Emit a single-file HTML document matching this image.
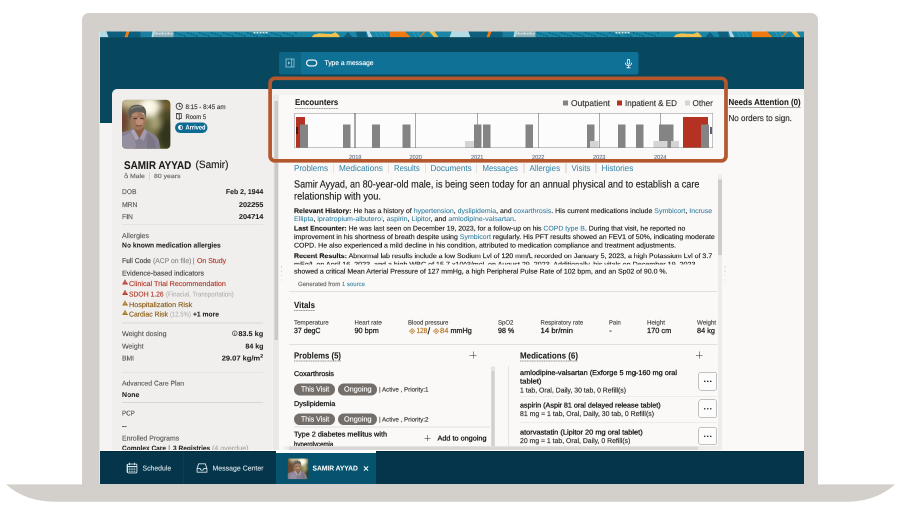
<!DOCTYPE html>
<html lang="en">
<head>
<meta charset="utf-8">
<title>Patient chart - Samir Ayyad</title>
<style>
html,body{margin:0;padding:0;background:#fff;}
body{width:900px;height:531px;overflow:hidden;position:relative;font-family:"Liberation Sans",sans-serif;}
#stage{will-change:transform;position:absolute;left:0;top:0;width:1800px;height:1062px;transform:scale(.5);transform-origin:0 0;}
#bezel{position:absolute;left:164px;top:26px;width:1472px;height:946px;background:#d3d0cb;border-radius:14px 14px 0 0;}
#base{position:absolute;left:0;top:0;width:1800px;height:1062px;}
#screen{position:absolute;left:200px;top:63px;width:1408px;height:905px;overflow:hidden;background:#f6f4f2;}
#in{position:absolute;left:-200px;top:-63px;width:1800px;height:1062px;}
.b{position:absolute;}
.t{position:absolute;white-space:nowrap;display:block;text-rendering:geometricPrecision;-webkit-text-stroke:0.3px currentColor;}
.lk{color:#2b7a9c;-webkit-text-stroke:0.1px #2b7a9c;}
svg{position:absolute;overflow:visible;}
</style>
</head>
<body>
<div id="stage">
<svg id="base" viewBox="0 0 900 531"><path d="M6,484.4 Q25.3,501.8 56,501.8 L845,501.8 Q875.7,501.8 895,484.4 Z" fill="#d3d0cb"/></svg>
<div id="bezel"></div>
<div class="b" style="left:198.4px;top:63px;width:2px;height:905px;background:#e6e2de;"></div>
<div id="screen"><div id="in">
<div class="b" style="left:200px;top:62px;width:1408px;height:184px;background:#07485f;"></div>
<svg style="left:200px;top:62.8px;width:1408px;height:11.2px" viewBox="0 0 704 5.6" preserveAspectRatio="none"><g transform="translate(-12.5,0)"><polygon points="0,0 362,0 362,5.6 0,5.6" fill="#1a86a6"/><polygon points="-2,0 2.2,0 0,5.6 -2,5.6" fill="#1a86a6"/><polygon points="2.2,0 19,0 21,5.6 0,5.6" fill="#b4dae6"/><polygon points="19,0 53,0 53,5.6 21,5.6" fill="#0e5f7e"/><polygon points="39,0 42,0 40,5.6 37,5.6" fill="#f07a10"/><polygon points="53,0 65,0 64,5.6 53,5.6" fill="#1a7ea0"/><polygon points="65,0 68,0 66,5.6 64,5.6" fill="#b4dae6"/><polygon points="68,0 86,0 86,5.6 66,5.6" fill="#8fb0b8"/><polygon points="87,0.6 89,0.6 89.6,2.2 87.6,2.2" fill="#0e6685"/><polygon points="90,1.6 92,1.6 92.6,3.2 90.6,3.2" fill="#0e6685"/><polygon points="93,2.6 95,2.6 95.6,4.2 93.6,4.2" fill="#0e6685"/><polygon points="96,3.6 98,3.6 98.6,5.2 96.6,5.2" fill="#0e6685"/><polygon points="99,0.6 101,0.6 101.6,2.2 99.6,2.2" fill="#0e6685"/><polygon points="102,1.6 104,1.6 104.6,3.2 102.6,3.2" fill="#0e6685"/><polygon points="105,2.6 107,2.6 107.6,4.2 105.6,4.2" fill="#0e6685"/><polygon points="108,3.6 110,3.6 110.6,5.2 108.6,5.2" fill="#0e6685"/><polygon points="111,0.6 113,0.6 113.6,2.2 111.6,2.2" fill="#0e6685"/><polygon points="114,1.6 116,1.6 116.6,3.2 114.6,3.2" fill="#0e6685"/><polygon points="117,2.6 119,2.6 119.6,4.2 117.6,4.2" fill="#0e6685"/><polygon points="120,3.6 122,3.6 122.6,5.2 120.6,5.2" fill="#0e6685"/><polygon points="123,0.6 125,0.6 125.6,2.2 123.6,2.2" fill="#0e6685"/><polygon points="126,1.6 128,1.6 128.6,3.2 126.6,3.2" fill="#0e6685"/><polygon points="129,2.6 131,2.6 131.6,4.2 129.6,4.2" fill="#0e6685"/><polygon points="132,3.6 134,3.6 134.6,5.2 132.6,5.2" fill="#0e6685"/><polygon points="135,0.6 137,0.6 137.6,2.2 135.6,2.2" fill="#0e6685"/><polygon points="138,1.6 140,1.6 140.6,3.2 138.6,3.2" fill="#0e6685"/><polygon points="141,2.6 143,2.6 143.6,4.2 141.6,4.2" fill="#0e6685"/><polygon points="144,3.6 146,3.6 146.6,5.2 144.6,5.2" fill="#0e6685"/><polygon points="147,0.6 149,0.6 149.6,2.2 147.6,2.2" fill="#0e6685"/><polygon points="150,1.6 152,1.6 152.6,3.2 150.6,3.2" fill="#0e6685"/><polygon points="153,2.6 155,2.6 155.6,4.2 153.6,4.2" fill="#0e6685"/><polygon points="156,3.6 158,3.6 158.6,5.2 156.6,5.2" fill="#0e6685"/><polygon points="159,0.6 161,0.6 161.6,2.2 159.6,2.2" fill="#0e6685"/><polygon points="162,1.6 164,1.6 164.6,3.2 162.6,3.2" fill="#0e6685"/><polygon points="165,2.6 167,2.6 167.6,4.2 165.6,4.2" fill="#0e6685"/><polygon points="168,3.6 170,3.6 170.6,5.2 168.6,5.2" fill="#0e6685"/><polygon points="171,0.6 173,0.6 173.6,2.2 171.6,2.2" fill="#0e6685"/><polygon points="174,1.6 176,1.6 176.6,3.2 174.6,3.2" fill="#0e6685"/><polygon points="177,2.6 179,2.6 179.6,4.2 177.6,4.2" fill="#0e6685"/><polygon points="180,3.6 182,3.6 182.6,5.2 180.6,5.2" fill="#0e6685"/><polygon points="183,0.6 185,0.6 185.6,2.2 183.6,2.2" fill="#0e6685"/><polygon points="186,1.6 188,1.6 188.6,3.2 186.6,3.2" fill="#0e6685"/><polygon points="189,2.6 191,2.6 191.6,4.2 189.6,4.2" fill="#0e6685"/><polygon points="192,3.6 194,3.6 194.6,5.2 192.6,5.2" fill="#0e6685"/><polygon points="195,0.6 197,0.6 197.6,2.2 195.6,2.2" fill="#0e6685"/><polygon points="198,1.6 200,1.6 200.6,3.2 198.6,3.2" fill="#0e6685"/><polygon points="201,2.6 203,2.6 203.6,4.2 201.6,4.2" fill="#0e6685"/><polygon points="204,3.6 206,3.6 206.6,5.2 204.6,5.2" fill="#0e6685"/><polygon points="207,0.6 209,0.6 209.6,2.2 207.6,2.2" fill="#0e6685"/><polygon points="68,1 70,1 70,3 68,3" fill="#d8e4e6"/><polygon points="71,2 73,1 73,3 71,3" fill="#d8e4e6"/><polygon points="74,1 76,1 76,3 74,3" fill="#d8e4e6"/><polygon points="77,2 79,1 79,3 77,3" fill="#d8e4e6"/><polygon points="80,1 82,1 82,3 80,3" fill="#d8e4e6"/><polygon points="83,2 85,1 85,3 83,3" fill="#d8e4e6"/><polygon points="166,0.5 168,0.5 168,2 166,2" fill="#cfe3e8"/><polygon points="169,0.5 171,0.5 171,2 169,2" fill="#cfe3e8"/><polygon points="172,0.5 174,0.5 174,2 172,2" fill="#cfe3e8"/><polygon points="175,0.5 177,0.5 177,2 175,2" fill="#cfe3e8"/><polygon points="178,0.5 180,0.5 180,2 178,2" fill="#cfe3e8"/><polygon points="224,5.6 226.5,3 232,1.8 238,2.2 244,2.4 248,0.6 251,3.2 252.5,5.6" fill="#f2c04e"/><polygon points="256,5.6 260.5,0.5 265,5.6" fill="#0e5f7e"/><polygon points="268,0 279,0 279,5.6 270,5.6" fill="#0e5f7e"/><polygon points="279,0 282,0 285,5.6 281,5.6" fill="#b4dae6"/><polygon points="302,0 317.5,0 323,5.6 302.6,5.6" fill="#f07a10"/><polygon points="287,0 288.4,0 291.4,5.6 290,5.6" fill="#2a9aba"/><polygon points="291,0 292.4,0 295.4,5.6 294,5.6" fill="#2a9aba"/><polygon points="295,0 296.4,0 299.4,5.6 298,5.6" fill="#2a9aba"/><polygon points="325,0 326.4,0 329.4,5.6 328,5.6" fill="#2a9aba"/><polygon points="329,0 330.4,0 333.4,5.6 332,5.6" fill="#2a9aba"/><polygon points="336.6,0 338,0 333.4,5.6 332,5.6" fill="#f07a10"/><polygon points="341.5,0 347,0 351,5.6 346.5,5.6" fill="#f2c04e"/></g><g transform="translate(349.5,0)"><polygon points="0,0 362,0 362,5.6 0,5.6" fill="#1a86a6"/><polygon points="-2,0 2.2,0 0,5.6 -2,5.6" fill="#1a86a6"/><polygon points="2.2,0 19,0 21,5.6 0,5.6" fill="#b4dae6"/><polygon points="19,0 53,0 53,5.6 21,5.6" fill="#0e5f7e"/><polygon points="39,0 42,0 40,5.6 37,5.6" fill="#f07a10"/><polygon points="53,0 65,0 64,5.6 53,5.6" fill="#1a7ea0"/><polygon points="65,0 68,0 66,5.6 64,5.6" fill="#b4dae6"/><polygon points="68,0 86,0 86,5.6 66,5.6" fill="#8fb0b8"/><polygon points="87,0.6 89,0.6 89.6,2.2 87.6,2.2" fill="#0e6685"/><polygon points="90,1.6 92,1.6 92.6,3.2 90.6,3.2" fill="#0e6685"/><polygon points="93,2.6 95,2.6 95.6,4.2 93.6,4.2" fill="#0e6685"/><polygon points="96,3.6 98,3.6 98.6,5.2 96.6,5.2" fill="#0e6685"/><polygon points="99,0.6 101,0.6 101.6,2.2 99.6,2.2" fill="#0e6685"/><polygon points="102,1.6 104,1.6 104.6,3.2 102.6,3.2" fill="#0e6685"/><polygon points="105,2.6 107,2.6 107.6,4.2 105.6,4.2" fill="#0e6685"/><polygon points="108,3.6 110,3.6 110.6,5.2 108.6,5.2" fill="#0e6685"/><polygon points="111,0.6 113,0.6 113.6,2.2 111.6,2.2" fill="#0e6685"/><polygon points="114,1.6 116,1.6 116.6,3.2 114.6,3.2" fill="#0e6685"/><polygon points="117,2.6 119,2.6 119.6,4.2 117.6,4.2" fill="#0e6685"/><polygon points="120,3.6 122,3.6 122.6,5.2 120.6,5.2" fill="#0e6685"/><polygon points="123,0.6 125,0.6 125.6,2.2 123.6,2.2" fill="#0e6685"/><polygon points="126,1.6 128,1.6 128.6,3.2 126.6,3.2" fill="#0e6685"/><polygon points="129,2.6 131,2.6 131.6,4.2 129.6,4.2" fill="#0e6685"/><polygon points="132,3.6 134,3.6 134.6,5.2 132.6,5.2" fill="#0e6685"/><polygon points="135,0.6 137,0.6 137.6,2.2 135.6,2.2" fill="#0e6685"/><polygon points="138,1.6 140,1.6 140.6,3.2 138.6,3.2" fill="#0e6685"/><polygon points="141,2.6 143,2.6 143.6,4.2 141.6,4.2" fill="#0e6685"/><polygon points="144,3.6 146,3.6 146.6,5.2 144.6,5.2" fill="#0e6685"/><polygon points="147,0.6 149,0.6 149.6,2.2 147.6,2.2" fill="#0e6685"/><polygon points="150,1.6 152,1.6 152.6,3.2 150.6,3.2" fill="#0e6685"/><polygon points="153,2.6 155,2.6 155.6,4.2 153.6,4.2" fill="#0e6685"/><polygon points="156,3.6 158,3.6 158.6,5.2 156.6,5.2" fill="#0e6685"/><polygon points="159,0.6 161,0.6 161.6,2.2 159.6,2.2" fill="#0e6685"/><polygon points="162,1.6 164,1.6 164.6,3.2 162.6,3.2" fill="#0e6685"/><polygon points="165,2.6 167,2.6 167.6,4.2 165.6,4.2" fill="#0e6685"/><polygon points="168,3.6 170,3.6 170.6,5.2 168.6,5.2" fill="#0e6685"/><polygon points="171,0.6 173,0.6 173.6,2.2 171.6,2.2" fill="#0e6685"/><polygon points="174,1.6 176,1.6 176.6,3.2 174.6,3.2" fill="#0e6685"/><polygon points="177,2.6 179,2.6 179.6,4.2 177.6,4.2" fill="#0e6685"/><polygon points="180,3.6 182,3.6 182.6,5.2 180.6,5.2" fill="#0e6685"/><polygon points="183,0.6 185,0.6 185.6,2.2 183.6,2.2" fill="#0e6685"/><polygon points="186,1.6 188,1.6 188.6,3.2 186.6,3.2" fill="#0e6685"/><polygon points="189,2.6 191,2.6 191.6,4.2 189.6,4.2" fill="#0e6685"/><polygon points="192,3.6 194,3.6 194.6,5.2 192.6,5.2" fill="#0e6685"/><polygon points="195,0.6 197,0.6 197.6,2.2 195.6,2.2" fill="#0e6685"/><polygon points="198,1.6 200,1.6 200.6,3.2 198.6,3.2" fill="#0e6685"/><polygon points="201,2.6 203,2.6 203.6,4.2 201.6,4.2" fill="#0e6685"/><polygon points="204,3.6 206,3.6 206.6,5.2 204.6,5.2" fill="#0e6685"/><polygon points="207,0.6 209,0.6 209.6,2.2 207.6,2.2" fill="#0e6685"/><polygon points="68,1 70,1 70,3 68,3" fill="#d8e4e6"/><polygon points="71,2 73,1 73,3 71,3" fill="#d8e4e6"/><polygon points="74,1 76,1 76,3 74,3" fill="#d8e4e6"/><polygon points="77,2 79,1 79,3 77,3" fill="#d8e4e6"/><polygon points="80,1 82,1 82,3 80,3" fill="#d8e4e6"/><polygon points="83,2 85,1 85,3 83,3" fill="#d8e4e6"/><polygon points="166,0.5 168,0.5 168,2 166,2" fill="#cfe3e8"/><polygon points="169,0.5 171,0.5 171,2 169,2" fill="#cfe3e8"/><polygon points="172,0.5 174,0.5 174,2 172,2" fill="#cfe3e8"/><polygon points="175,0.5 177,0.5 177,2 175,2" fill="#cfe3e8"/><polygon points="178,0.5 180,0.5 180,2 178,2" fill="#cfe3e8"/><polygon points="224,5.6 226.5,3 232,1.8 238,2.2 244,2.4 248,0.6 251,3.2 252.5,5.6" fill="#f2c04e"/><polygon points="256,5.6 260.5,0.5 265,5.6" fill="#0e5f7e"/><polygon points="268,0 279,0 279,5.6 270,5.6" fill="#0e5f7e"/><polygon points="279,0 282,0 285,5.6 281,5.6" fill="#b4dae6"/><polygon points="302,0 317.5,0 323,5.6 302.6,5.6" fill="#f07a10"/><polygon points="287,0 288.4,0 291.4,5.6 290,5.6" fill="#2a9aba"/><polygon points="291,0 292.4,0 295.4,5.6 294,5.6" fill="#2a9aba"/><polygon points="295,0 296.4,0 299.4,5.6 298,5.6" fill="#2a9aba"/><polygon points="325,0 326.4,0 329.4,5.6 328,5.6" fill="#2a9aba"/><polygon points="329,0 330.4,0 333.4,5.6 332,5.6" fill="#2a9aba"/><polygon points="336.6,0 338,0 333.4,5.6 332,5.6" fill="#f07a10"/><polygon points="341.5,0 347,0 351,5.6 346.5,5.6" fill="#f2c04e"/></g><g transform="translate(711.5,0)"><polygon points="0,0 362,0 362,5.6 0,5.6" fill="#1a86a6"/><polygon points="-2,0 2.2,0 0,5.6 -2,5.6" fill="#1a86a6"/><polygon points="2.2,0 19,0 21,5.6 0,5.6" fill="#b4dae6"/><polygon points="19,0 53,0 53,5.6 21,5.6" fill="#0e5f7e"/><polygon points="39,0 42,0 40,5.6 37,5.6" fill="#f07a10"/><polygon points="53,0 65,0 64,5.6 53,5.6" fill="#1a7ea0"/><polygon points="65,0 68,0 66,5.6 64,5.6" fill="#b4dae6"/><polygon points="68,0 86,0 86,5.6 66,5.6" fill="#8fb0b8"/><polygon points="87,0.6 89,0.6 89.6,2.2 87.6,2.2" fill="#0e6685"/><polygon points="90,1.6 92,1.6 92.6,3.2 90.6,3.2" fill="#0e6685"/><polygon points="93,2.6 95,2.6 95.6,4.2 93.6,4.2" fill="#0e6685"/><polygon points="96,3.6 98,3.6 98.6,5.2 96.6,5.2" fill="#0e6685"/><polygon points="99,0.6 101,0.6 101.6,2.2 99.6,2.2" fill="#0e6685"/><polygon points="102,1.6 104,1.6 104.6,3.2 102.6,3.2" fill="#0e6685"/><polygon points="105,2.6 107,2.6 107.6,4.2 105.6,4.2" fill="#0e6685"/><polygon points="108,3.6 110,3.6 110.6,5.2 108.6,5.2" fill="#0e6685"/><polygon points="111,0.6 113,0.6 113.6,2.2 111.6,2.2" fill="#0e6685"/><polygon points="114,1.6 116,1.6 116.6,3.2 114.6,3.2" fill="#0e6685"/><polygon points="117,2.6 119,2.6 119.6,4.2 117.6,4.2" fill="#0e6685"/><polygon points="120,3.6 122,3.6 122.6,5.2 120.6,5.2" fill="#0e6685"/><polygon points="123,0.6 125,0.6 125.6,2.2 123.6,2.2" fill="#0e6685"/><polygon points="126,1.6 128,1.6 128.6,3.2 126.6,3.2" fill="#0e6685"/><polygon points="129,2.6 131,2.6 131.6,4.2 129.6,4.2" fill="#0e6685"/><polygon points="132,3.6 134,3.6 134.6,5.2 132.6,5.2" fill="#0e6685"/><polygon points="135,0.6 137,0.6 137.6,2.2 135.6,2.2" fill="#0e6685"/><polygon points="138,1.6 140,1.6 140.6,3.2 138.6,3.2" fill="#0e6685"/><polygon points="141,2.6 143,2.6 143.6,4.2 141.6,4.2" fill="#0e6685"/><polygon points="144,3.6 146,3.6 146.6,5.2 144.6,5.2" fill="#0e6685"/><polygon points="147,0.6 149,0.6 149.6,2.2 147.6,2.2" fill="#0e6685"/><polygon points="150,1.6 152,1.6 152.6,3.2 150.6,3.2" fill="#0e6685"/><polygon points="153,2.6 155,2.6 155.6,4.2 153.6,4.2" fill="#0e6685"/><polygon points="156,3.6 158,3.6 158.6,5.2 156.6,5.2" fill="#0e6685"/><polygon points="159,0.6 161,0.6 161.6,2.2 159.6,2.2" fill="#0e6685"/><polygon points="162,1.6 164,1.6 164.6,3.2 162.6,3.2" fill="#0e6685"/><polygon points="165,2.6 167,2.6 167.6,4.2 165.6,4.2" fill="#0e6685"/><polygon points="168,3.6 170,3.6 170.6,5.2 168.6,5.2" fill="#0e6685"/><polygon points="171,0.6 173,0.6 173.6,2.2 171.6,2.2" fill="#0e6685"/><polygon points="174,1.6 176,1.6 176.6,3.2 174.6,3.2" fill="#0e6685"/><polygon points="177,2.6 179,2.6 179.6,4.2 177.6,4.2" fill="#0e6685"/><polygon points="180,3.6 182,3.6 182.6,5.2 180.6,5.2" fill="#0e6685"/><polygon points="183,0.6 185,0.6 185.6,2.2 183.6,2.2" fill="#0e6685"/><polygon points="186,1.6 188,1.6 188.6,3.2 186.6,3.2" fill="#0e6685"/><polygon points="189,2.6 191,2.6 191.6,4.2 189.6,4.2" fill="#0e6685"/><polygon points="192,3.6 194,3.6 194.6,5.2 192.6,5.2" fill="#0e6685"/><polygon points="195,0.6 197,0.6 197.6,2.2 195.6,2.2" fill="#0e6685"/><polygon points="198,1.6 200,1.6 200.6,3.2 198.6,3.2" fill="#0e6685"/><polygon points="201,2.6 203,2.6 203.6,4.2 201.6,4.2" fill="#0e6685"/><polygon points="204,3.6 206,3.6 206.6,5.2 204.6,5.2" fill="#0e6685"/><polygon points="207,0.6 209,0.6 209.6,2.2 207.6,2.2" fill="#0e6685"/><polygon points="68,1 70,1 70,3 68,3" fill="#d8e4e6"/><polygon points="71,2 73,1 73,3 71,3" fill="#d8e4e6"/><polygon points="74,1 76,1 76,3 74,3" fill="#d8e4e6"/><polygon points="77,2 79,1 79,3 77,3" fill="#d8e4e6"/><polygon points="80,1 82,1 82,3 80,3" fill="#d8e4e6"/><polygon points="83,2 85,1 85,3 83,3" fill="#d8e4e6"/><polygon points="166,0.5 168,0.5 168,2 166,2" fill="#cfe3e8"/><polygon points="169,0.5 171,0.5 171,2 169,2" fill="#cfe3e8"/><polygon points="172,0.5 174,0.5 174,2 172,2" fill="#cfe3e8"/><polygon points="175,0.5 177,0.5 177,2 175,2" fill="#cfe3e8"/><polygon points="178,0.5 180,0.5 180,2 178,2" fill="#cfe3e8"/><polygon points="224,5.6 226.5,3 232,1.8 238,2.2 244,2.4 248,0.6 251,3.2 252.5,5.6" fill="#f2c04e"/><polygon points="256,5.6 260.5,0.5 265,5.6" fill="#0e5f7e"/><polygon points="268,0 279,0 279,5.6 270,5.6" fill="#0e5f7e"/><polygon points="279,0 282,0 285,5.6 281,5.6" fill="#b4dae6"/><polygon points="302,0 317.5,0 323,5.6 302.6,5.6" fill="#f07a10"/><polygon points="287,0 288.4,0 291.4,5.6 290,5.6" fill="#2a9aba"/><polygon points="291,0 292.4,0 295.4,5.6 294,5.6" fill="#2a9aba"/><polygon points="295,0 296.4,0 299.4,5.6 298,5.6" fill="#2a9aba"/><polygon points="325,0 326.4,0 329.4,5.6 328,5.6" fill="#2a9aba"/><polygon points="329,0 330.4,0 333.4,5.6 332,5.6" fill="#2a9aba"/><polygon points="336.6,0 338,0 333.4,5.6 332,5.6" fill="#f07a10"/><polygon points="341.5,0 347,0 351,5.6 346.5,5.6" fill="#f2c04e"/></g></svg>
<div class="b" style="left:558px;top:103.8px;width:719px;height:44.8px;background:#0f7196;border-radius:4.4px;"></div>
<div class="b" style="left:558px;top:103.8px;width:44px;height:44.8px;background:#0c6585;border-radius:4.4px 0 0 4.4px;"></div>
<svg style="left:570.8px;top:117.4px;width:18px;height:18px" viewBox="0 0 9 9"><rect x="0.5" y="0.5" width="8" height="8" fill="none" stroke="#9cc6d6" stroke-width="0.8"/><line x1="6.2" y1="0.5" x2="6.2" y2="8.5" stroke="#9cc6d6" stroke-width="0.8"/><path d="M2.6,2.8 L4.8,4.5 L2.6,6.2 Z" fill="#9cc6d6"/></svg>
<svg style="left:612.4px;top:119.2px;width:22.8px;height:14px" viewBox="0 0 11.4 7"><rect x="0.6" y="0.6" width="10.2" height="5.8" rx="2.9" fill="none" stroke="#fff" stroke-width="1.1"/></svg>
<span class="t" id="t0" style="top:116.9px;font-size:13.6px;line-height:17px;color:#fff;left:648.6px;transform-origin:0 50%;transform:scaleX(0.9825);">Type a message</span>
<svg style="left:1249.2px;top:117.6px;width:16px;height:18.8px" viewBox="0 0 8 9.4"><rect x="2.8" y="0.4" width="2.4" height="4.8" rx="1.2" fill="none" stroke="#fff" stroke-width="0.8"/><path d="M0.8,3.6 Q1,6.6 4,6.6 Q7,6.6 7.2,3.6" fill="none" stroke="#fff" stroke-width="0.8"/><path d="M4,6.6 V8.6 M2,8.8 H6" stroke="#fff" stroke-width="0.9" fill="none"/></svg>
<div class="b" style="left:200px;top:246px;width:360px;height:660px;background:#f6f4f2;"></div>
<div class="b" style="left:224px;top:178.4px;width:324.6px;height:730px;background:#f1efed;border-radius:10px 0 0 0;"></div>
<svg style="left:244px;top:200.2px;width:96.6px;height:97.2px" viewBox="0 0 48 48.5" preserveAspectRatio="xMidYMid slice"><clipPath id="ca"><rect x="0" y="0" width="48" height="48.5" rx="3.8"/></clipPath><linearGradient id="ga" x1="0" x2="1" y1="0" y2="0"><stop offset="0" stop-color="#5a4630"/><stop offset="0.28" stop-color="#8c7e58"/><stop offset="0.6" stop-color="#7c784c"/><stop offset="0.8" stop-color="#4c4826"/><stop offset="1" stop-color="#3b391e"/></linearGradient><filter id="fa" x="-30%" y="-30%" width="160%" height="160%"><feGaussianBlur stdDeviation="0.28"/></filter><filter id="ha" x="-50%" y="-50%" width="200%" height="200%"><feGaussianBlur stdDeviation="3"/></filter><g clip-path="url(#ca)"><rect x="-8" y="-1" width="64" height="50" fill="url(#ga)"/><g filter="url(#ha)"><ellipse cx="27" cy="7" rx="11" ry="10" fill="#f6f1dc"/><ellipse cx="26" cy="6" rx="6" ry="6" fill="#fffbea"/><ellipse cx="8" cy="2" rx="12" ry="6" fill="#c9bd98"/><ellipse cx="33" cy="23" rx="5" ry="7" fill="#aaa476"/><ellipse cx="1.5" cy="22" rx="4" ry="11" fill="#6e3e2e"/><ellipse cx="45" cy="5" rx="6" ry="6" fill="#74602f"/><ellipse cx="44" cy="34" rx="8" ry="14" fill="#33351a"/></g><g filter="url(#fa)"><path d="M-8,49 L-8,35 Q0,32 8,30 L11,28.5 L22,28.5 L25,30.5 Q33,33 36.5,40 L38.2,49 Z" fill="#878091"/><path d="M-2,49 L-1,38 Q5,33 9,33 L14,44 L13,49 Z" fill="#968fa0"/><path d="M25,34 Q31,36 33,42 L34,49 L25,49 Z" fill="#7b7485"/><path d="M11.5,26 L21.5,26 L22,31 L17.5,38 L11.5,31 Z" fill="#8c5f4a"/><path d="M8.6,31 L12,29 L17,38 L13.6,40.5 Z" fill="#aaa3b3"/><path d="M25,31 L22,29 L17.5,38 L21.6,40.5 Z" fill="#a29bab"/><ellipse cx="15.8" cy="20.6" rx="7.3" ry="9.2" fill="#a1765d"/><ellipse cx="17.4" cy="21.6" rx="3.8" ry="3.6" fill="#bb8e74"/><ellipse cx="13" cy="14.6" rx="3" ry="1.6" fill="#b48a70"/><path d="M11.6,18.6 H14.8 M18.2,18.6 H21.4" stroke="#4a3026" stroke-width="1.1"/><path d="M13.6,25.4 Q16.6,26.6 19.6,25.4" stroke="#7a4a3e" stroke-width="0.9" fill="none"/><path d="M8.6,19.5 Q6.6,17 6.3,12.5 Q6.6,5 15.4,4.8 Q23.6,5 24,12.6 Q24,16 23,19 Q22.8,15 21.6,13.2 Q18,11.4 14.6,11.8 Q11.4,12.4 9.6,14.6 Q8.8,17 8.6,19.5 Z" fill="#605d59"/><path d="M8.4,9.4 Q13,6 20,7" stroke="#8d8b87" stroke-width="1.1" fill="none"/></g></g></svg>
<svg style="left:351px;top:204.6px;width:15.2px;height:15.2px" viewBox="0 0 8 8"><circle cx="4" cy="4" r="3.3" fill="none" stroke="#333" stroke-width="0.9"/><path d="M4,2 V4.2 H5.8" fill="none" stroke="#333" stroke-width="0.8"/></svg>
<span class="t" id="t1" style="top:205.55px;font-size:13.2px;line-height:16.5px;color:#333;left:370.8px;transform-origin:0 50%;transform:scaleX(0.9407);">8:15 - 8:45 am</span>
<svg style="left:352px;top:226.4px;width:11.6px;height:13.6px" viewBox="0 0 6 7"><path d="M0.5,0.5 H5.5 V5.6 H3.4" fill="none" stroke="#333" stroke-width="0.8"/><path d="M0.5,0.5 L3.4,1.3 V6.6 L0.5,5.6 Z" fill="none" stroke="#333" stroke-width="0.8"/></svg>
<span class="t" id="t2" style="top:225.55px;font-size:13.2px;line-height:16.5px;color:#333;left:370.8px;transform-origin:0 50%;transform:scaleX(0.8920);">Room 5</span>
<div class="b" style="left:350px;top:244.8px;width:64.6px;height:20.8px;background:#0d6a92;border-radius:10.4px;"></div>
<svg style="left:355.8px;top:250.2px;width:10px;height:10px" viewBox="0 0 5 5"><circle cx="2.5" cy="2.5" r="2.1" fill="none" stroke="#fff" stroke-width="0.7"/><path d="M2.5,0.4 A2.1,2.1 0 0 0 2.5,4.6 Z" fill="#fff"/></svg>
<span class="t" id="t3" style="top:247.35px;font-size:13.2px;line-height:16.5px;color:#fff;font-weight:700;-webkit-text-stroke:0.1px currentColor;left:370.8px;transform-origin:0 50%;transform:scaleX(0.8660);">Arrived</span>
<span class="t" id="t4" style="top:316.6px;font-size:22.4px;line-height:28px;color:#1c1c1c;font-weight:700;-webkit-text-stroke:0.1px currentColor;left:247.8px;transform-origin:0 50%;transform:scaleX(0.8866);">SAMIR AYYAD</span>
<span class="t" id="t5" style="top:317.35px;font-size:21.2px;line-height:26.5px;color:#1c1c1c;left:390.8px;transform-origin:0 50%;transform:scaleX(0.9503);">(Samir)</span>
<svg style="left:248.4px;top:345.6px;width:8px;height:12px" viewBox="0 0 4 6"><circle cx="2" cy="3.6" r="1.4" fill="none" stroke="#666" stroke-width="0.6"/><path d="M2,2.2 V0.3 M1,1.2 L2,0.3 L3,1.2" fill="none" stroke="#666" stroke-width="0.6"/></svg>
<span class="t" id="t6" style="top:344.7px;font-size:12px;line-height:15px;color:#666;left:260.4px;transform-origin:0 50%;transform:scaleX(1.1378);">Male</span>
<div class="b" style="left:298.8px;top:344.4px;width:1px;height:15.2px;background:#bbb;"></div>
<span class="t" id="t7" style="top:344.7px;font-size:12px;line-height:15px;color:#666;left:308px;transform-origin:0 50%;transform:scaleX(1.1470);">80 years</span>
<span class="t" id="t8" style="top:374.85px;font-size:14px;line-height:17.5px;color:#5c5c5c;left:244px;transform-origin:0 50%;transform:scaleX(0.9491);">DOB</span>
<span class="t" id="t9" style="top:374.85px;font-size:14px;line-height:17.5px;color:#222;font-weight:700;-webkit-text-stroke:0.1px currentColor;right:1273.6px;transform-origin:100% 50%;transform:scaleX(0.9907);">Feb 2, 1944</span>
<span class="t" id="t10" style="top:400.65px;font-size:14px;line-height:17.5px;color:#5c5c5c;left:244px;transform-origin:0 50%;transform:scaleX(0.9658);">MRN</span>
<span class="t" id="t11" style="top:400.65px;font-size:14px;line-height:17.5px;color:#222;font-weight:700;-webkit-text-stroke:0.1px currentColor;right:1273.6px;transform-origin:100% 50%;transform:scaleX(1.0488);">202255</span>
<span class="t" id="t12" style="top:425.05px;font-size:14px;line-height:17.5px;color:#5c5c5c;left:244px;transform-origin:0 50%;transform:scaleX(0.9573);">FIN</span>
<span class="t" id="t13" style="top:425.05px;font-size:14px;line-height:17.5px;color:#222;font-weight:700;-webkit-text-stroke:0.1px currentColor;right:1273.6px;transform-origin:100% 50%;transform:scaleX(1.0488);">204714</span>
<div class="b" style="left:244px;top:449px;width:282.4px;height:1.2px;background:#d9d6d3;"></div>
<span class="t" id="t14" style="top:463.05px;font-size:14px;line-height:17.5px;color:#5c5c5c;left:244px;transform-origin:0 50%;transform:scaleX(1.0055);">Allergies</span>
<span class="t" id="t15" style="top:482.45px;font-size:14px;line-height:17.5px;color:#222;font-weight:700;-webkit-text-stroke:0.1px currentColor;left:244px;transform-origin:0 50%;transform:scaleX(0.9621);">No known medication allergies</span>
<span class="t" id="t16" style="top:512.85px;font-size:14px;line-height:17.5px;color:#444;left:244px;transform-origin:0 50%;transform:scaleX(0.9646);">Full Code</span>
<span class="t" id="t17" style="top:512.85px;font-size:14px;line-height:17.5px;color:#8a8a8a;left:305.6px;transform-origin:0 50%;transform:scaleX(0.9708);">(ACP on file)</span>
<span class="t" id="t18" style="top:512.85px;font-size:14px;line-height:17.5px;color:#8a8a8a;left:385.6px;transform-origin:0 50%;">|</span>
<span class="t" id="t19" style="top:512.85px;font-size:14px;line-height:17.5px;color:#b23a2a;left:393.8px;transform-origin:0 50%;transform:scaleX(0.9970);">On Study</span>
<span class="t" id="t20" style="top:537.85px;font-size:14px;line-height:17.5px;color:#444;left:244px;transform-origin:0 50%;transform:scaleX(0.9987);">Evidence-based indicators</span>
<svg style="left:244.4px;top:558px;width:12px;height:12px" viewBox="0 0 6 6"><path d="M3,0.3 L5.8,5.5 H0.2 Z" fill="#b43a2a"/><rect x="2.72" y="2.1" width="0.56" height="1.8" fill="#f1efed" opacity="0.85"/><rect x="2.72" y="4.3" width="0.56" height="0.55" fill="#f1efed" opacity="0.85"/></svg>
<span class="t" id="t21" style="top:559.05px;font-size:14px;line-height:17.5px;color:#b43a2a;left:258.2px;transform-origin:0 50%;transform:scaleX(1.0250);">Clinical Trial Recommendation</span>
<svg style="left:244.4px;top:578.6px;width:12px;height:12px" viewBox="0 0 6 6"><path d="M3,0.3 L5.8,5.5 H0.2 Z" fill="#b43a2a"/><rect x="2.72" y="2.1" width="0.56" height="1.8" fill="#f1efed" opacity="0.85"/><rect x="2.72" y="4.3" width="0.56" height="0.55" fill="#f1efed" opacity="0.85"/></svg>
<span class="t" id="t22" style="top:579.65px;font-size:14px;line-height:17.5px;color:#b43a2a;left:258.2px;transform-origin:0 50%;transform:scaleX(0.9694);">SDOH 1.26</span>
<span class="t" id="t23" style="top:579.65px;font-size:14px;line-height:17.5px;color:#a8a6a4;left:331.8px;transform-origin:0 50%;transform:scaleX(0.8744);-webkit-text-stroke:0;">(Finacial, Transportation)</span>
<svg style="left:244.4px;top:599.8px;width:12px;height:12px" viewBox="0 0 6 6"><path d="M3,0.3 L5.8,5.5 H0.2 Z" fill="#a67826"/><rect x="2.72" y="2.1" width="0.56" height="1.8" fill="#f1efed" opacity="0.85"/><rect x="2.72" y="4.3" width="0.56" height="0.55" fill="#f1efed" opacity="0.85"/></svg>
<span class="t" id="t24" style="top:600.85px;font-size:14px;line-height:17.5px;color:#8a5a12;left:258.2px;transform-origin:0 50%;transform:scaleX(1.0346);">Hospitalization Risk</span>
<svg style="left:244.4px;top:619.2px;width:12px;height:12px" viewBox="0 0 6 6"><path d="M3,0.3 L5.8,5.5 H0.2 Z" fill="#a67826"/><rect x="2.72" y="2.1" width="0.56" height="1.8" fill="#f1efed" opacity="0.85"/><rect x="2.72" y="4.3" width="0.56" height="0.55" fill="#f1efed" opacity="0.85"/></svg>
<span class="t" id="t25" style="top:620.25px;font-size:14px;line-height:17.5px;color:#8a5a12;left:258.2px;transform-origin:0 50%;transform:scaleX(0.9804);">Cardiac Risk</span>
<span class="t" id="t26" style="top:620.25px;font-size:14px;line-height:17.5px;color:#a8a6a4;left:339.8px;transform-origin:0 50%;transform:scaleX(0.8525);-webkit-text-stroke:0;">(12.5%)</span>
<span class="t" id="t27" style="top:620.25px;font-size:14px;line-height:17.5px;color:#222;font-weight:700;-webkit-text-stroke:0.1px currentColor;left:385.8px;transform-origin:0 50%;transform:scaleX(0.9613);">+1 more</span>
<div class="b" style="left:244px;top:645.4px;width:282.4px;height:1.2px;background:#d9d6d3;"></div>
<span class="t" id="t28" style="top:659.05px;font-size:14px;line-height:17.5px;color:#5c5c5c;left:244px;transform-origin:0 50%;transform:scaleX(1.0060);">Weight dosing</span>
<svg style="left:463.8px;top:661.2px;width:11.2px;height:11.2px" viewBox="0 0 5 5"><circle cx="2.5" cy="2.5" r="2.1" fill="none" stroke="#222" stroke-width="0.55"/><path d="M2.5,2.2 V3.8 M2.5,1.1 V1.7" stroke="#222" stroke-width="0.65"/></svg>
<span class="t" id="t29" style="top:659.05px;font-size:14px;line-height:17.5px;color:#222;font-weight:700;-webkit-text-stroke:0.1px currentColor;right:1273.6px;transform-origin:100% 50%;transform:scaleX(1.0488);">83.5 kg</span>
<span class="t" id="t30" style="top:683.65px;font-size:14px;line-height:17.5px;color:#5c5c5c;left:244px;transform-origin:0 50%;transform:scaleX(0.9924);">Weight</span>
<span class="t" id="t31" style="top:683.65px;font-size:14px;line-height:17.5px;color:#222;font-weight:700;-webkit-text-stroke:0.1px currentColor;right:1273.6px;transform-origin:100% 50%;transform:scaleX(1.0052);">84 kg</span>
<span class="t" id="t32" style="top:708.25px;font-size:14px;line-height:17.5px;color:#5c5c5c;left:244px;transform-origin:0 50%;transform:scaleX(0.9642);">BMI</span>
<span class="t" id="t33" style="top:708.25px;font-size:14px;line-height:17.5px;color:#222;font-weight:700;-webkit-text-stroke:0.1px currentColor;right:1273.6px;transform-origin:100% 50%;transform:scaleX(1.0723);">29.07 kg/m<sup style="font-size:72%;line-height:0;vertical-align:super">2</sup></span>
<div class="b" style="left:244px;top:744px;width:282.4px;height:1.2px;background:#d9d6d3;"></div>
<span class="t" id="t34" style="top:757.65px;font-size:14px;line-height:17.5px;color:#5c5c5c;left:244px;transform-origin:0 50%;transform:scaleX(0.9656);">Advanced Care Plan</span>
<span class="t" id="t35" style="top:781.25px;font-size:14px;line-height:17.5px;color:#222;font-weight:700;-webkit-text-stroke:0.1px currentColor;left:244px;transform-origin:0 50%;transform:scaleX(0.9886);">None</span>
<div class="b" style="left:244px;top:804.4px;width:282.4px;height:1.2px;background:#d9d6d3;"></div>
<span class="t" id="t36" style="top:817.85px;font-size:14px;line-height:17.5px;color:#5c5c5c;left:244px;transform-origin:0 50%;transform:scaleX(0.8890);">PCP</span>
<span class="t" id="t37" style="top:843.85px;font-size:14px;line-height:17.5px;color:#222;left:244px;transform-origin:0 50%;">--</span>
<span class="t" id="t38" style="top:868.25px;font-size:14px;line-height:17.5px;color:#5c5c5c;left:244px;transform-origin:0 50%;transform:scaleX(0.9867);">Enrolled Programs</span>
<span class="t" id="t39" style="top:888.45px;font-size:14px;line-height:17.5px;color:#222;font-weight:700;-webkit-text-stroke:0.1px currentColor;left:244px;transform-origin:0 50%;transform:scaleX(0.9346);text-decoration:underline;">Complex Care</span>
<span class="t" id="t40" style="top:888.45px;font-size:14px;line-height:17.5px;color:#666;left:336.4px;transform-origin:0 50%;">|</span>
<span class="t" id="t41" style="top:888.45px;font-size:14px;line-height:17.5px;color:#222;font-weight:700;-webkit-text-stroke:0.1px currentColor;left:345.6px;transform-origin:0 50%;transform:scaleX(0.9373);text-decoration:underline;">3 Registries</span>
<span class="t" id="t42" style="top:888.45px;font-size:14px;line-height:17.5px;color:#a8a6a4;left:423.8px;transform-origin:0 50%;transform:scaleX(1.0196);">(4 overdue)</span>
<div class="b" style="left:544px;top:177.6px;width:1064px;height:730px;background:#f4f2f0;"></div>
<div class="b" style="left:558px;top:189.6px;width:886px;height:716px;background:#faf9f8;"></div>
<div class="b" style="left:546.4px;top:189.6px;width:11.2px;height:716px;background:#ebe9e7;"></div>
<div class="b" style="left:548.8px;top:201.6px;width:7px;height:478.4px;background:#cbc9c7;"></div>
<div class="b" style="left:1436px;top:348.8px;width:8px;height:556px;background:#eeecea;"></div>
<div class="b" style="left:1436.4px;top:358.8px;width:7.2px;height:151.2px;background:#cfcdcb;"></div>
<div class="b" style="left:1444px;top:189.6px;width:164px;height:716px;background:#faf9f8;"></div>
<span class="t" id="t43" style="top:194.12px;font-size:17.4px;line-height:21.75px;color:#1c1c1c;font-weight:700;-webkit-text-stroke:0.1px currentColor;left:1457px;transform-origin:0 50%;transform:scaleX(0.9094);">Needs Attention (0)</span>
<div class="b" style="left:1457px;top:215.2px;width:144.4px;height:1.2px;background:#555;"></div>
<span class="t" id="t44" style="top:225.53px;font-size:17.4px;line-height:21.75px;color:#2a2a2a;left:1457px;transform-origin:0 50%;transform:scaleX(0.9238);">No orders to sign.</span>
<span class="t" id="t45" style="top:194.38px;font-size:17px;line-height:21.25px;color:#1c1c1c;font-weight:700;-webkit-text-stroke:0.1px currentColor;left:589.6px;transform-origin:0 50%;transform:scaleX(0.9259);">Encounters</span>
<svg style="left:589.6px;top:216px;width:86.6px;height:2px" viewBox="0 0 43.3 1"><line x1="0" y1="0.5" x2="43.3" y2="0.5" stroke="#333" stroke-width="0.6" stroke-dasharray="1.2,0.5"/></svg>
<div class="b" style="left:1126.4px;top:201.2px;width:10px;height:10px;background:#848484;"></div>
<span class="t" id="t46" style="top:196.38px;font-size:17px;line-height:21.25px;color:#333;left:1142px;transform-origin:0 50%;transform:scaleX(0.9942);">Outpatient</span>
<div class="b" style="left:1234.4px;top:201.2px;width:10px;height:10px;background:#b53222;"></div>
<span class="t" id="t47" style="top:196.38px;font-size:17px;line-height:21.25px;color:#333;left:1250px;transform-origin:0 50%;transform:scaleX(0.9487);">Inpatient &amp; ED</span>
<div class="b" style="left:1370px;top:201.2px;width:10px;height:10px;background:#d4d4d4;"></div>
<span class="t" id="t48" style="top:196.38px;font-size:17px;line-height:21.25px;color:#333;left:1385.2px;transform-origin:0 50%;transform:scaleX(0.9593);">Other</span>
<div class="b" style="left:588.6px;top:226.4px;width:837.6px;height:69.2px;background:#fdfcfc;border:1px solid #8a8a8a;box-sizing:border-box;"></div>
<div class="b" style="left:709.4px;top:226.4px;width:1.2px;height:69.2px;background:#555;"></div>
<div class="b" style="left:831px;top:226.4px;width:1.2px;height:69.2px;background:#555;"></div>
<div class="b" style="left:953.6px;top:226.4px;width:1.2px;height:69.2px;background:#555;"></div>
<div class="b" style="left:1076px;top:226.4px;width:1.2px;height:69.2px;background:#555;"></div>
<div class="b" style="left:1198px;top:226.4px;width:1.2px;height:69.2px;background:#555;"></div>
<div class="b" style="left:1319.8px;top:226.4px;width:1.2px;height:69.2px;background:#555;"></div>
<div class="b" style="left:592px;top:234.4px;width:18.4px;height:60.6px;background:#b53222;"></div>
<div class="b" style="left:600.2px;top:249px;width:15.4px;height:46px;background:#848484;"></div>
<div class="b" style="left:592.2px;top:254.2px;width:3.6px;height:13.6px;background:#4a1812;"></div>
<div class="b" style="left:686px;top:249px;width:15.4px;height:46px;background:#848484;"></div>
<div class="b" style="left:744px;top:249px;width:15.8px;height:46px;background:#848484;"></div>
<div class="b" style="left:804.6px;top:249px;width:16px;height:46px;background:#848484;"></div>
<div class="b" style="left:930.4px;top:282px;width:18px;height:13px;background:#d4d4d4;"></div>
<div class="b" style="left:948px;top:249px;width:15px;height:46px;background:#848484;"></div>
<div class="b" style="left:966px;top:249px;width:15.4px;height:46px;background:#848484;"></div>
<div class="b" style="left:1051px;top:249px;width:15px;height:46px;background:#848484;"></div>
<div class="b" style="left:1174px;top:249px;width:15px;height:46px;background:#848484;"></div>
<div class="b" style="left:1180px;top:282px;width:16.8px;height:13px;background:#d4d4d4;"></div>
<div class="b" style="left:1236.4px;top:249px;width:15px;height:46px;background:#848484;"></div>
<div class="b" style="left:1272px;top:249px;width:15.4px;height:46px;background:#848484;"></div>
<div class="b" style="left:1318px;top:249px;width:28.8px;height:46px;background:#848484;"></div>
<div class="b" style="left:1306.6px;top:282px;width:28.2px;height:13px;background:#d4d4d4;"></div>
<div class="b" style="left:1342px;top:282px;width:16px;height:13px;background:#d4d4d4;"></div>
<div class="b" style="left:1366.2px;top:234px;width:49.8px;height:61px;background:#b53222;"></div>
<div class="b" style="left:1402px;top:249px;width:16px;height:46px;background:#848484;"></div>
<div class="b" style="left:1420.4px;top:254px;width:3.6px;height:13.6px;background:#5e5a78;"></div>
<span class="t" id="t49" style="top:307.75px;font-size:11.6px;line-height:14.5px;color:#6a7488;left:697.6px;transform-origin:0 50%;transform:scaleX(0.9614);">2019</span>
<span class="t" id="t50" style="top:307.75px;font-size:11.6px;line-height:14.5px;color:#6a7488;left:819.2px;transform-origin:0 50%;transform:scaleX(0.9614);">2020</span>
<span class="t" id="t51" style="top:307.75px;font-size:11.6px;line-height:14.5px;color:#6a7488;left:941.8px;transform-origin:0 50%;transform:scaleX(0.9614);">2021</span>
<span class="t" id="t52" style="top:307.75px;font-size:11.6px;line-height:14.5px;color:#6a7488;left:1064.2px;transform-origin:0 50%;transform:scaleX(0.9614);">2022</span>
<span class="t" id="t53" style="top:307.75px;font-size:11.6px;line-height:14.5px;color:#6a7488;left:1186.2px;transform-origin:0 50%;transform:scaleX(0.9614);">2023</span>
<span class="t" id="t54" style="top:307.75px;font-size:11.6px;line-height:14.5px;color:#6a7488;left:1308px;transform-origin:0 50%;transform:scaleX(0.9614);">2024</span>
<svg style="left:0;top:0;width:1800px;height:1062px" viewBox="0 0 900 531"><rect x="270.1" y="78.3" width="455.9" height="82.5" rx="4.8" fill="none" stroke="#b5572c" stroke-width="3.7"/></svg>
<span class="t" id="t55" style="top:326.25px;font-size:17.2px;line-height:21.5px;color:#2f80a4;left:587.8px;transform-origin:0 50%;transform:scaleX(0.9367);-webkit-text-stroke:0;">Problems</span>
<span class="t" id="t56" style="top:326.25px;font-size:17.2px;line-height:21.5px;color:#2f80a4;left:677.8px;transform-origin:0 50%;transform:scaleX(0.9573);-webkit-text-stroke:0;">Medications</span>
<span class="t" id="t57" style="top:326.25px;font-size:17.2px;line-height:21.5px;color:#2f80a4;left:787.6px;transform-origin:0 50%;transform:scaleX(0.9003);-webkit-text-stroke:0;">Results</span>
<span class="t" id="t58" style="top:326.25px;font-size:17.2px;line-height:21.5px;color:#2f80a4;left:861.2px;transform-origin:0 50%;transform:scaleX(0.9478);-webkit-text-stroke:0;">Documents</span>
<span class="t" id="t59" style="top:326.25px;font-size:17.2px;line-height:21.5px;color:#2f80a4;left:965.2px;transform-origin:0 50%;transform:scaleX(0.9037);-webkit-text-stroke:0;">Messages</span>
<span class="t" id="t60" style="top:326.25px;font-size:17.2px;line-height:21.5px;color:#2f80a4;left:1058.8px;transform-origin:0 50%;transform:scaleX(0.9284);-webkit-text-stroke:0;">Allergies</span>
<span class="t" id="t61" style="top:326.25px;font-size:17.2px;line-height:21.5px;color:#2f80a4;left:1142.8px;transform-origin:0 50%;transform:scaleX(0.9273);-webkit-text-stroke:0;">Visits</span>
<span class="t" id="t62" style="top:326.25px;font-size:17.2px;line-height:21.5px;color:#2f80a4;left:1202.8px;transform-origin:0 50%;transform:scaleX(0.9513);-webkit-text-stroke:0;">Histories</span>
<div class="b" style="left:666px;top:327.2px;width:1.2px;height:18.4px;background:#cfcdcb;"></div>
<div class="b" style="left:775.8px;top:327.2px;width:1.2px;height:18.4px;background:#cfcdcb;"></div>
<div class="b" style="left:850px;top:327.2px;width:1.2px;height:18.4px;background:#cfcdcb;"></div>
<div class="b" style="left:953.2px;top:327.2px;width:1.2px;height:18.4px;background:#cfcdcb;"></div>
<div class="b" style="left:1047.4px;top:327.2px;width:1.2px;height:18.4px;background:#cfcdcb;"></div>
<div class="b" style="left:1131.4px;top:327.2px;width:1.2px;height:18.4px;background:#cfcdcb;"></div>
<div class="b" style="left:1191.4px;top:327.2px;width:1.2px;height:18.4px;background:#cfcdcb;"></div>
<span class="t" id="t63" style="top:356.33px;font-size:20.6px;line-height:25.75px;color:#222;left:588px;transform-origin:0 50%;transform:scaleX(0.8835);">Samir Ayyad, an 80-year-old male, is being seen today for an annual physical and to establish a care</span>
<span class="t" id="t64" style="top:379.93px;font-size:20.6px;line-height:25.75px;color:#222;left:588px;transform-origin:0 50%;transform:scaleX(0.9048);">relationship with you.</span>
<span class="t" id="t65" style="top:413.62px;font-size:13.4px;line-height:16.75px;color:#222;left:588px;transform-origin:0 50%;transform:scaleX(1.0443);"><b style="color:#1c1c1c">Relevant History:</b> He has a history of <span class="lk">hypertension</span>, <span class="lk">dyslipidemia</span>, and <span class="lk">coxarthrosis</span>. His current medications include <span class="lk">Symbicort</span>, <span class="lk">Incruse</span></span>
<span class="t" id="t66" style="top:429.62px;font-size:13.4px;line-height:16.75px;color:#222;left:588px;transform-origin:0 50%;transform:scaleX(1.0631);"><span class="lk">Ellipta</span>, <span class="lk">ipratropium-albuterol</span>, <span class="lk">aspirin</span>, <span class="lk">Lipitor</span>, and <span class="lk">amlodipine-valsartan</span>.</span>
<span class="t" id="t67" style="top:449.43px;font-size:13.4px;line-height:16.75px;color:#222;left:588px;transform-origin:0 50%;transform:scaleX(1.0341);"><b style="color:#1c1c1c">Last Encounter:</b> He was last seen on December 19, 2023, for a follow-up on his <span class="lk">COPD type B</span>. During that visit, he reported no</span>
<span class="t" id="t68" style="top:466.43px;font-size:13.4px;line-height:16.75px;color:#222;left:588px;transform-origin:0 50%;transform:scaleX(1.0457);">improvement in his shortness of breath despite using <span class="lk">Symbicort</span> regularly. His PFT results showed an FEV1 of 50%, indicating moderate</span>
<span class="t" id="t69" style="top:483.23px;font-size:13.4px;line-height:16.75px;color:#222;left:588px;transform-origin:0 50%;transform:scaleX(1.0463);">COPD. He also experienced a mild decline in his condition, attributed to medication compliance and treatment adjustments.</span>
<span class="t" id="t70" style="top:504.43px;font-size:13.4px;line-height:16.75px;color:#222;left:588px;transform-origin:0 50%;transform:scaleX(1.0479);"><b style="color:#1c1c1c">Recent Results:</b> Abnormal lab results include a low Sodium Lvl of 120 mm/L recorded on January 5, 2023, a high Potassium Lvl of 3.7</span>
<span class="t" id="t71" style="top:520.83px;font-size:13.4px;line-height:16.75px;color:#222;left:588px;transform-origin:0 50%;transform:scaleX(1.0681);">mEq/L on April 16, 2023, and a high WBC of 15.7 x10^3/mcL on August 29, 2023. Additionally, his vitals on December 19, 2023,</span>
<div class="b" style="left:580px;top:528.6px;width:856px;height:22px;background:#faf9f8;"></div>
<span class="t" id="t72" style="top:535.02px;font-size:13.4px;line-height:16.75px;color:#222;left:588px;transform-origin:0 50%;transform:scaleX(1.0389);">showed a critical Mean Arterial Pressure of 127 mmHg, a high Peripheral Pulse Rate of 102 bpm, and an Sp02 of 90.0 %.</span>
<span class="t" id="t73" style="top:560.7px;font-size:12px;line-height:15px;color:#666;left:596px;transform-origin:0 50%;transform:scaleX(1.0045);">Generated from <span class="lk">1 source</span></span>
<div class="b" style="left:561.6px;top:532.4px;width:2.4px;height:2.4px;background:#dcc0c8;border-radius:50%;"></div>
<div class="b" style="left:561.6px;top:541.2px;width:2.4px;height:2.4px;background:#dcc0c8;border-radius:50%;"></div>
<div class="b" style="left:561.6px;top:550px;width:2.4px;height:2.4px;background:#dcc0c8;border-radius:50%;"></div>
<div class="b" style="left:561.6px;top:558.8px;width:2.4px;height:2.4px;background:#dcc0c8;border-radius:50%;"></div>
<div class="b" style="left:1448.8px;top:532.4px;width:2.4px;height:2.4px;background:#dcc0c8;border-radius:50%;"></div>
<div class="b" style="left:1448.8px;top:541.2px;width:2.4px;height:2.4px;background:#dcc0c8;border-radius:50%;"></div>
<div class="b" style="left:1448.8px;top:550px;width:2.4px;height:2.4px;background:#dcc0c8;border-radius:50%;"></div>
<div class="b" style="left:1448.8px;top:558.8px;width:2.4px;height:2.4px;background:#dcc0c8;border-radius:50%;"></div>
<div class="b" style="left:578px;top:582px;width:856px;height:1.2px;background:#c9c7c5;"></div>
<span class="t" id="t74" style="top:598.6px;font-size:17.6px;line-height:22px;color:#1c1c1c;font-weight:700;-webkit-text-stroke:0.1px currentColor;left:588px;transform-origin:0 50%;transform:scaleX(0.9008);">Vitals</span>
<svg style="left:588px;top:620px;width:42px;height:2px" viewBox="0 0 21 1"><line x1="0" y1="0.5" x2="21" y2="0.5" stroke="#333" stroke-width="0.6" stroke-dasharray="1.2,0.5"/></svg>
<span class="t" id="t75" style="top:638.45px;font-size:12.4px;line-height:15.5px;color:#444;left:588px;transform-origin:0 50%;transform:scaleX(0.9977);">Temperature</span>
<span class="t" id="t76" style="top:653.35px;font-size:14.8px;line-height:18.5px;color:#1c1c1c;left:588px;transform-origin:0 50%;transform:scaleX(0.9472);-webkit-text-stroke:0.55px #1c1c1c;">37 degC</span>
<span class="t" id="t77" style="top:638.45px;font-size:12.4px;line-height:15.5px;color:#444;left:709.4px;transform-origin:0 50%;transform:scaleX(0.9838);">Heart rate</span>
<span class="t" id="t78" style="top:653.35px;font-size:14.8px;line-height:18.5px;color:#1c1c1c;left:709.4px;transform-origin:0 50%;transform:scaleX(0.9846);-webkit-text-stroke:0.55px #1c1c1c;">90 bpm</span>
<span class="t" id="t79" style="top:638.45px;font-size:12.4px;line-height:15.5px;color:#444;left:815.8px;transform-origin:0 50%;transform:scaleX(0.9695);">Blood pressure</span>
<svg style="left:817.8px;top:656px;width:12.4px;height:12.4px" viewBox="0 0 6 6"><path d="M3,0.5 L5.5,3 L3,5.5 L0.5,3 Z" fill="none" stroke="#b26c16" stroke-width="0.6"/><path d="M3,2 L4,3 L3,4 L2,3 Z" fill="#b26c16"/></svg>
<span class="t" id="t80" style="top:653.35px;font-size:14.8px;line-height:18.5px;color:#b26c16;left:832.8px;transform-origin:0 50%;transform:scaleX(0.8663);">128</span>
<span class="t" id="t81" style="top:650.55px;font-size:18px;line-height:22.5px;color:#111;left:855.2px;transform-origin:0 50%;-webkit-text-stroke:0.5px #111;">/</span>
<svg style="left:865.8px;top:656px;width:12.4px;height:12.4px" viewBox="0 0 6 6"><path d="M3,0.5 L5.5,3 L3,5.5 L0.5,3 Z" fill="none" stroke="#b26c16" stroke-width="0.6"/><path d="M3,2 L4,3 L3,4 L2,3 Z" fill="#b26c16"/></svg>
<span class="t" id="t82" style="top:653.35px;font-size:14.8px;line-height:18.5px;color:#b26c16;left:880px;transform-origin:0 50%;transform:scaleX(1.0201);">84</span>
<span class="t" id="t83" style="top:653.35px;font-size:14.8px;line-height:18.5px;color:#1c1c1c;left:901.4px;transform-origin:0 50%;transform:scaleX(0.9776);-webkit-text-stroke:0.55px #1c1c1c;">mmHg</span>
<span class="t" id="t84" style="top:638.45px;font-size:12.4px;line-height:15.5px;color:#444;left:996px;transform-origin:0 50%;transform:scaleX(0.9720);">SpO2</span>
<span class="t" id="t85" style="top:653.35px;font-size:14.8px;line-height:18.5px;color:#1c1c1c;left:996px;transform-origin:0 50%;transform:scaleX(0.9604);-webkit-text-stroke:0.55px #1c1c1c;">98 %</span>
<span class="t" id="t86" style="top:638.45px;font-size:12.4px;line-height:15.5px;color:#444;left:1081px;transform-origin:0 50%;transform:scaleX(0.9687);">Respiratory rate</span>
<span class="t" id="t87" style="top:653.35px;font-size:14.8px;line-height:18.5px;color:#1c1c1c;left:1081px;transform-origin:0 50%;transform:scaleX(1.0537);-webkit-text-stroke:0.55px #1c1c1c;">14 br/min</span>
<span class="t" id="t88" style="top:638.45px;font-size:12.4px;line-height:15.5px;color:#444;left:1218.4px;transform-origin:0 50%;transform:scaleX(0.9511);">Pain</span>
<span class="t" id="t89" style="top:653.35px;font-size:14.8px;line-height:18.5px;color:#1c1c1c;left:1218.4px;transform-origin:0 50%;-webkit-text-stroke:0.55px #1c1c1c;">-</span>
<span class="t" id="t90" style="top:638.45px;font-size:12.4px;line-height:15.5px;color:#444;left:1294px;transform-origin:0 50%;transform:scaleX(1.0048);">Height</span>
<span class="t" id="t91" style="top:653.35px;font-size:14.8px;line-height:18.5px;color:#1c1c1c;left:1294px;transform-origin:0 50%;transform:scaleX(1.0014);-webkit-text-stroke:0.55px #1c1c1c;">170 cm</span>
<span class="t" id="t92" style="top:638.45px;font-size:12.4px;line-height:15.5px;color:#444;left:1393.8px;transform-origin:0 50%;transform:scaleX(0.9963);">Weight</span>
<span class="t" id="t93" style="top:653.35px;font-size:14.8px;line-height:18.5px;color:#1c1c1c;left:1393.8px;transform-origin:0 50%;transform:scaleX(0.9889);-webkit-text-stroke:0.55px #1c1c1c;">84 kg</span>
<div class="b" style="left:578px;top:688px;width:856px;height:1.2px;background:#c9c7c5;"></div>
<span class="t" id="t94" style="top:699.6px;font-size:17.6px;line-height:22px;color:#1c1c1c;font-weight:700;-webkit-text-stroke:0.1px currentColor;left:588px;transform-origin:0 50%;transform:scaleX(0.8820);">Problems (5)</span>
<svg style="left:588px;top:720.8px;width:94px;height:2px" viewBox="0 0 47 1"><line x1="0" y1="0.5" x2="47" y2="0.5" stroke="#333" stroke-width="0.6" stroke-dasharray="1.2,0.5"/></svg>
<div class="b" style="left:939.4px;top:709.5px;width:13.2px;height:1px;background:#2a2a2a;"></div>
<div class="b" style="left:945.5px;top:703.4px;width:1px;height:13.2px;background:#2a2a2a;"></div>
<span class="t" id="t95" style="top:739.25px;font-size:14px;line-height:17.5px;color:#1c1c1c;left:588px;transform-origin:0 50%;transform:scaleX(1.0179);-webkit-text-stroke:0.6px #1c1c1c;">Coxarthrosis</span>
<div class="b" style="left:588.4px;top:767px;width:81.6px;height:23.6px;background:#736e69;border-radius:11.8px;"></div>
<div class="b" style="left:675.8px;top:767px;width:78.6px;height:23.6px;background:#736e69;border-radius:11.8px;"></div>
<span class="t" id="t96" style="top:770.15px;font-size:14.8px;line-height:18.5px;color:#fff;left:602px;transform-origin:0 50%;transform:scaleX(0.9437);">This Visit</span>
<span class="t" id="t97" style="top:770.15px;font-size:14.8px;line-height:18.5px;color:#fff;left:688px;transform-origin:0 50%;transform:scaleX(0.9865);">Ongoing</span>
<span class="t" id="t98" style="top:772.25px;font-size:12.4px;line-height:15.5px;color:#333;left:757.6px;transform-origin:0 50%;transform:scaleX(1.0006);">| Active , Priority:1</span>
<span class="t" id="t99" style="top:798.65px;font-size:14px;line-height:17.5px;color:#1c1c1c;left:588px;transform-origin:0 50%;transform:scaleX(1.0408);-webkit-text-stroke:0.6px #1c1c1c;">Dyslipidemia</span>
<div class="b" style="left:588.4px;top:826.6px;width:81.6px;height:23.6px;background:#736e69;border-radius:11.8px;"></div>
<div class="b" style="left:675.8px;top:826.6px;width:78.6px;height:23.6px;background:#736e69;border-radius:11.8px;"></div>
<span class="t" id="t100" style="top:829.75px;font-size:14.8px;line-height:18.5px;color:#fff;left:602px;transform-origin:0 50%;transform:scaleX(0.9437);">This Visit</span>
<span class="t" id="t101" style="top:829.75px;font-size:14.8px;line-height:18.5px;color:#fff;left:688px;transform-origin:0 50%;transform:scaleX(0.9865);">Ongoing</span>
<span class="t" id="t102" style="top:831.85px;font-size:12.4px;line-height:15.5px;color:#333;left:757.6px;transform-origin:0 50%;transform:scaleX(1.0006);">| Active , Priority:2</span>
<div class="b" style="left:588px;top:853.4px;width:392px;height:1.2px;background:#e2e0de;"></div>
<span class="t" id="t103" style="top:860.05px;font-size:14px;line-height:17.5px;color:#1c1c1c;left:588px;transform-origin:0 50%;transform:scaleX(1.0392);-webkit-text-stroke:0.6px #1c1c1c;">Type 2 diabetes mellitus with</span>
<span class="t" id="t104" style="top:880.45px;font-size:14px;line-height:17.5px;color:#1c1c1c;left:588px;transform-origin:0 50%;transform:scaleX(0.8708);-webkit-text-stroke:0.6px #1c1c1c;">hyperglycemia</span>
<div class="b" style="left:849.2px;top:875.5px;width:12px;height:1px;background:#2a2a2a;"></div>
<div class="b" style="left:854.7px;top:870px;width:1px;height:12px;background:#2a2a2a;"></div>
<span class="t" id="t105" style="top:867.85px;font-size:14px;line-height:17.5px;color:#1c1c1c;left:874.6px;transform-origin:0 50%;transform:scaleX(1.0403);-webkit-text-stroke:0.6px #1c1c1c;">Add to ongoing</span>
<div class="b" style="left:982px;top:732.8px;width:7.6px;height:160px;background:#e6e4e2;"></div>
<div class="b" style="left:982.6px;top:742px;width:6.4px;height:152px;background:#d2d0ce;"></div>
<div class="b" style="left:1016px;top:732px;width:1.2px;height:162px;background:#e6e4e2;"></div>
<span class="t" id="t106" style="top:699.6px;font-size:17.6px;line-height:22px;color:#1c1c1c;font-weight:700;-webkit-text-stroke:0.1px currentColor;left:1040px;transform-origin:0 50%;transform:scaleX(0.9058);">Medications (6)</span>
<svg style="left:1040px;top:720.8px;width:116px;height:2px" viewBox="0 0 58 1"><line x1="0" y1="0.5" x2="58" y2="0.5" stroke="#333" stroke-width="0.6" stroke-dasharray="1.2,0.5"/></svg>
<div class="b" style="left:1392.2px;top:709.5px;width:13.2px;height:1px;background:#2a2a2a;"></div>
<div class="b" style="left:1398.3px;top:703.4px;width:1px;height:13.2px;background:#2a2a2a;"></div>
<span class="t" id="t107" style="top:736.65px;font-size:14px;line-height:17.5px;color:#1c1c1c;left:1040px;transform-origin:0 50%;transform:scaleX(1.0481);-webkit-text-stroke:0.6px #1c1c1c;">amlodipine-valsartan (Exforge 5 mg-160 mg oral</span>
<span class="t" id="t108" style="top:753.85px;font-size:14px;line-height:17.5px;color:#1c1c1c;left:1040px;transform-origin:0 50%;transform:scaleX(1.1048);-webkit-text-stroke:0.6px #1c1c1c;">tablet)</span>
<span class="t" id="t109" style="top:772.25px;font-size:14px;line-height:17.5px;color:#2a2a2a;left:1040px;transform-origin:0 50%;transform:scaleX(0.9777);">1 tab, Oral, Daily, 30 tab, 0 Refill(s)</span>
<div class="b" style="left:1397.4px;top:744px;width:36.2px;height:37.2px;background:#fdfcfc;border:1.4px solid #8a8886;border-radius:5px;box-sizing:border-box;"></div>
<div class="b" style="left:1408.2px;top:761.1px;width:3px;height:3px;background:#1c1c1c;border-radius:50%;"></div>
<div class="b" style="left:1414px;top:761.1px;width:3px;height:3px;background:#1c1c1c;border-radius:50%;"></div>
<div class="b" style="left:1419.8px;top:761.1px;width:3px;height:3px;background:#1c1c1c;border-radius:50%;"></div>
<div class="b" style="left:1040px;top:792px;width:394px;height:1.2px;background:#e2e0de;"></div>
<span class="t" id="t110" style="top:802.25px;font-size:14px;line-height:17.5px;color:#1c1c1c;left:1040px;transform-origin:0 50%;transform:scaleX(1.0265);-webkit-text-stroke:0.6px #1c1c1c;">aspirin (Aspir 81 oral delayed release tablet)</span>
<span class="t" id="t111" style="top:819.25px;font-size:14px;line-height:17.5px;color:#2a2a2a;left:1040px;transform-origin:0 50%;transform:scaleX(0.9864);">81 mg = 1 tab, Oral, Daily, 30 tab, 0 Refill(s)</span>
<div class="b" style="left:1397.4px;top:799.2px;width:36.2px;height:37.2px;background:#fdfcfc;border:1.4px solid #8a8886;border-radius:5px;box-sizing:border-box;"></div>
<div class="b" style="left:1408.2px;top:816.3px;width:3px;height:3px;background:#1c1c1c;border-radius:50%;"></div>
<div class="b" style="left:1414px;top:816.3px;width:3px;height:3px;background:#1c1c1c;border-radius:50%;"></div>
<div class="b" style="left:1419.8px;top:816.3px;width:3px;height:3px;background:#1c1c1c;border-radius:50%;"></div>
<div class="b" style="left:1040px;top:844.6px;width:394px;height:1.2px;background:#e2e0de;"></div>
<span class="t" id="t112" style="top:855.85px;font-size:14px;line-height:17.5px;color:#1c1c1c;left:1040px;transform-origin:0 50%;transform:scaleX(1.0583);-webkit-text-stroke:0.6px #1c1c1c;">atorvastatin (Lipitor 20 mg oral tablet)</span>
<span class="t" id="t113" style="top:872.85px;font-size:14px;line-height:17.5px;color:#2a2a2a;left:1040px;transform-origin:0 50%;transform:scaleX(0.9814);">20 mg = 1 tab, Oral, Daily, 0 Refill(s)</span>
<div class="b" style="left:1397.4px;top:854px;width:36.2px;height:36px;background:#fdfcfc;border:1.4px solid #8a8886;border-radius:5px;box-sizing:border-box;"></div>
<div class="b" style="left:1408.2px;top:870.5px;width:3px;height:3px;background:#1c1c1c;border-radius:50%;"></div>
<div class="b" style="left:1414px;top:870.5px;width:3px;height:3px;background:#1c1c1c;border-radius:50%;"></div>
<div class="b" style="left:1419.8px;top:870.5px;width:3px;height:3px;background:#1c1c1c;border-radius:50%;"></div>
<div class="b" style="left:568px;top:892px;width:876px;height:10.4px;background:#efedeb;"></div>
<div class="b" style="left:578px;top:892.8px;width:818px;height:8.8px;background:#d9d7d5;"></div>
<div class="b" style="left:200px;top:900.4px;width:1408px;height:2px;background:#fff;"></div>
<div class="b" style="left:200px;top:902px;width:1408px;height:68px;background:#04354a;"></div>
<div class="b" style="left:200px;top:902px;width:1408px;height:1.6px;background:#022b3d;"></div>
<div class="b" style="left:552px;top:902px;width:200.2px;height:68px;background:#05536f;"></div>
<div class="b" style="left:552px;top:901.2px;width:200.2px;height:5px;background:#fff;"></div>
<div class="b" style="left:366.2px;top:902px;width:1.2px;height:68px;background:#0e4a62;"></div>
<svg style="left:253.4px;top:925.2px;width:22px;height:22px" viewBox="0 0 11 11"><rect x="0.6" y="1.6" width="9.8" height="8.8" rx="1" fill="none" stroke="#dbe6ec" stroke-width="0.9"/><path d="M0.6,4 H10.4 M3,0.3 V2.6 M8,0.3 V2.6" stroke="#dbe6ec" stroke-width="0.9" fill="none"/><path d="M2.2,5.6 H8.8 M2.2,7.2 H8.8 M2.2,8.8 H8.8" stroke="#dbe6ec" stroke-width="0.9" stroke-dasharray="1.2,0.6" fill="none"/></svg>
<span class="t" id="t114" style="top:928.25px;font-size:14px;line-height:17.5px;color:#dbe6ec;left:284.6px;transform-origin:0 50%;transform:scaleX(0.9830);-webkit-text-stroke:0.2px #dbe6ec;">Schedule</span>
<svg style="left:393.2px;top:926.4px;width:22px;height:20px" viewBox="0 0 11 10"><path d="M0.6,5.4 L2.2,0.8 H8.8 L10.4,5.4 V9.2 H0.6 Z" fill="none" stroke="#dbe6ec" stroke-width="0.9" stroke-linejoin="round"/><path d="M0.6,5.4 H3.6 Q3.8,7.2 5.5,7.2 Q7.2,7.2 7.4,5.4 H10.4" fill="none" stroke="#dbe6ec" stroke-width="0.9"/></svg>
<span class="t" id="t115" style="top:928.25px;font-size:14px;line-height:17.5px;color:#dbe6ec;left:424.6px;transform-origin:0 50%;transform:scaleX(0.9930);-webkit-text-stroke:0.2px #dbe6ec;">Message Center</span>
<svg style="left:576px;top:916.8px;width:40px;height:41.2px" viewBox="-7 0 48 48.5" preserveAspectRatio="xMidYMid slice"><clipPath id="cb"><rect x="-7" y="0" width="48" height="48.5" rx="0"/></clipPath><linearGradient id="gb" x1="0" x2="1" y1="0" y2="0"><stop offset="0" stop-color="#5a4630"/><stop offset="0.28" stop-color="#8c7e58"/><stop offset="0.6" stop-color="#7c784c"/><stop offset="0.8" stop-color="#4c4826"/><stop offset="1" stop-color="#3b391e"/></linearGradient><filter id="fb" x="-30%" y="-30%" width="160%" height="160%"><feGaussianBlur stdDeviation="0.28"/></filter><filter id="hb" x="-50%" y="-50%" width="200%" height="200%"><feGaussianBlur stdDeviation="3"/></filter><g clip-path="url(#cb)"><rect x="-8" y="-1" width="64" height="50" fill="url(#gb)"/><g filter="url(#hb)"><ellipse cx="27" cy="7" rx="11" ry="10" fill="#f6f1dc"/><ellipse cx="26" cy="6" rx="6" ry="6" fill="#fffbea"/><ellipse cx="8" cy="2" rx="12" ry="6" fill="#c9bd98"/><ellipse cx="33" cy="23" rx="5" ry="7" fill="#aaa476"/><ellipse cx="1.5" cy="22" rx="4" ry="11" fill="#6e3e2e"/><ellipse cx="45" cy="5" rx="6" ry="6" fill="#74602f"/><ellipse cx="44" cy="34" rx="8" ry="14" fill="#33351a"/></g><g filter="url(#fb)"><path d="M-8,49 L-8,35 Q0,32 8,30 L11,28.5 L22,28.5 L25,30.5 Q33,33 36.5,40 L38.2,49 Z" fill="#878091"/><path d="M-2,49 L-1,38 Q5,33 9,33 L14,44 L13,49 Z" fill="#968fa0"/><path d="M25,34 Q31,36 33,42 L34,49 L25,49 Z" fill="#7b7485"/><path d="M11.5,26 L21.5,26 L22,31 L17.5,38 L11.5,31 Z" fill="#8c5f4a"/><path d="M8.6,31 L12,29 L17,38 L13.6,40.5 Z" fill="#aaa3b3"/><path d="M25,31 L22,29 L17.5,38 L21.6,40.5 Z" fill="#a29bab"/><ellipse cx="15.8" cy="20.6" rx="7.3" ry="9.2" fill="#a1765d"/><ellipse cx="17.4" cy="21.6" rx="3.8" ry="3.6" fill="#bb8e74"/><ellipse cx="13" cy="14.6" rx="3" ry="1.6" fill="#b48a70"/><path d="M11.6,18.6 H14.8 M18.2,18.6 H21.4" stroke="#4a3026" stroke-width="1.1"/><path d="M13.6,25.4 Q16.6,26.6 19.6,25.4" stroke="#7a4a3e" stroke-width="0.9" fill="none"/><path d="M8.6,19.5 Q6.6,17 6.3,12.5 Q6.6,5 15.4,4.8 Q23.6,5 24,12.6 Q24,16 23,19 Q22.8,15 21.6,13.2 Q18,11.4 14.6,11.8 Q11.4,12.4 9.6,14.6 Q8.8,17 8.6,19.5 Z" fill="#605d59"/><path d="M8.4,9.4 Q13,6 20,7" stroke="#8d8b87" stroke-width="1.1" fill="none"/></g></g></svg>
<span class="t" id="t116" style="top:928.25px;font-size:14px;line-height:17.5px;color:#fff;font-weight:700;-webkit-text-stroke:0.1px currentColor;left:625.4px;transform-origin:0 50%;transform:scaleX(0.9545);">SAMIR AYYAD</span>
<svg style="left:726.6px;top:932px;width:10px;height:10px" viewBox="0 0 5 5"><path d="M0.4,0.4 L4.6,4.6 M4.6,0.4 L0.4,4.6" stroke="#fff" stroke-width="1"/></svg>
</div></div>
</div>
</body>
</html>
